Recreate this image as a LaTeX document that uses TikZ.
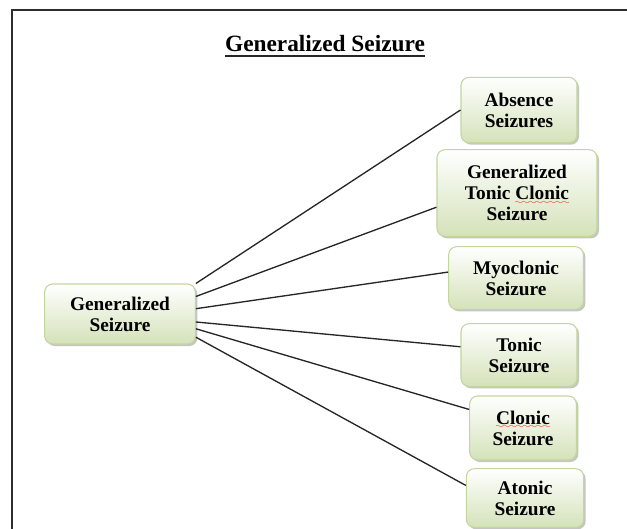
\documentclass[tikz,border=0pt]{standalone}
\usepackage{fontspec}
\setmainfont{Liberation Serif}
\usetikzlibrary{shadows}
\definecolor{boxgreen}{RGB}{195,214,155}
\definecolor{fillgreen}{RGB}{212,226,185}
\definecolor{framegray}{RGB}{45,45,45}
\font\wavefont=lasy6
\newcommand{\redwave}[1]{\setbox0\hbox{#1}\rlap{\textcolor{red}{\lower3.5pt\hbox to\wd0{\xleaders\hbox{\wavefont\char58}\hfil}}}\box0}
\tikzset{
  seizurebox/.style={draw=boxgreen, line width=0.8pt, rounded corners=6pt,
    top color=white, bottom color=fillgreen, align=center, inner sep=2pt,
    font=\fontsize{14.5}{15.75}\selectfont\bfseries,
    drop shadow={shadow xshift=1.5pt, shadow yshift=-1.5pt, fill=black!45, opacity=.5}},
  link/.style={draw=black!85, line width=1pt}
}
\begin{document}
\begin{tikzpicture}[x=0.75pt, y=-0.75pt]
  \useasboundingbox (0,0) rectangle (627,528);
  \clip (0,0) rectangle (627,528);
  % page frame
  \draw[framegray, line width=1.3pt] (12,10) rectangle (680,580);

  % title
  \node[inner sep=0pt, font=\fontsize{17.5}{19}\selectfont\bfseries] (title) at (325,44) {Generalized Seizure};
  \draw[black!85, line width=1.3pt] ([yshift=-3pt]title.base west) -- ([yshift=-3pt]title.base east);

  % root
  \node[seizurebox, minimum width=113pt, minimum height=45pt] (root) at (120,314) {Generalized\\Seizure};

  % types
  \node[seizurebox, minimum width=87pt, minimum height=49pt] (absence) at (519,110) {Absence\\Seizures};
  \node[seizurebox, minimum width=120pt, minimum height=65pt] (gtc) at (517,193) {Generalized\\Tonic \redwave{Clonic}\\Seizure};
  \node[seizurebox, minimum width=101pt, minimum height=47pt] (myoclonic) at (516,278) {Myoclonic\\Seizure};
  \node[seizurebox, minimum width=87pt, minimum height=47pt] (tonic) at (519,355) {Tonic\\Seizure};
  \node[seizurebox, minimum width=80pt, minimum height=48pt] (clonic) at (523,428) {\redwave{Clonic}\\Seizure};
  \node[seizurebox, minimum width=88pt, minimum height=44pt] (atonic) at (525,498) {Atonic\\Seizure};

  % connectors
  \draw[link] (root.north east) -- (absence.west);
  \draw[link] (root.13) -- (gtc.190);
  \draw[link] (root.4) -- (myoclonic.175);
  \draw[link] (root.-6) -- (tonic.172);
  \draw[link] (root.-11) -- (clonic.161);
  \draw[link] (root.-17) -- (atonic.168);
\end{tikzpicture}
\end{document}
